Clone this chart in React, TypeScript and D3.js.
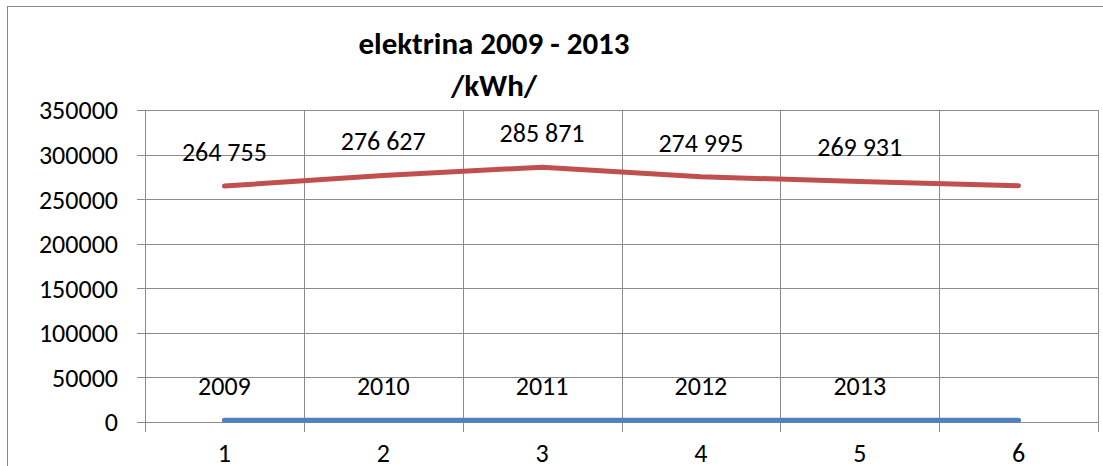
import React from 'react';
import * as d3 from 'd3';

// chart data
const categories = ['1', '2', '3', '4', '5', '6'];
const consumption = [264755, 276627, 285871, 274995, 269931, 265000];
const consumptionLabels = ['264 755', '276 627', '285 871', '274 995', '269 931', ''];
const years = [2009, 2010, 2011, 2012, 2013, 2014];
const yearLabels = ['2009', '2010', '2011', '2012', '2013', ''];
const yTicks = [0, 50000, 100000, 150000, 200000, 250000, 300000, 350000];

const WIDTH = 1103;
const HEIGHT = 466;
const FONT = 'Carlito, Calibri, Lato, sans-serif';

export default function App() {
  const ref = React.useRef<SVGSVGElement>(null);

  React.useEffect(() => {
    if (!ref.current) return;
    document.body.style.margin = '0';
    const svg = d3.select(ref.current);
    svg.selectAll('*').remove();

    const plot = { left: 145, right: 1098, top: 110, bottom: 422 };

    const x = d3.scaleBand<string>()
      .domain(categories)
      .range([plot.left, plot.right]);
    const y = d3.scaleLinear()
      .domain([0, 350000])
      .range([plot.bottom, plot.top]);

    const cx = (i: number) => (x(categories[i]) || 0) + x.bandwidth() / 2;

    // outer chart frame
    svg.append('rect')
      .attr('x', 7.5)
      .attr('y', 6.5)
      .attr('width', WIDTH + 20)
      .attr('height', HEIGHT + 20)
      .attr('fill', '#fff')
      .attr('stroke', '#878787')
      .attr('stroke-width', 1);

    const grid = svg.append('g').attr('stroke', '#8c8c8c').attr('stroke-width', 1);

    // horizontal gridlines with tick stubs on the left
    grid.selectAll('line.h')
      .data(yTicks)
      .join('line')
      .attr('class', 'h')
      .attr('x1', plot.left - 8)
      .attr('x2', plot.right)
      .attr('y1', d => Math.round(y(d)) + 0.5)
      .attr('y2', d => Math.round(y(d)) + 0.5);

    // vertical gridlines at band edges with tick stubs below
    const edges = categories.map(c => x(c) || 0).concat([plot.right]);
    grid.selectAll('line.v')
      .data(edges)
      .join('line')
      .attr('class', 'v')
      .attr('x1', d => Math.round(d) + 0.5)
      .attr('x2', d => Math.round(d) + 0.5)
      .attr('y1', plot.top)
      .attr('y2', plot.bottom + 10);

    // y tick labels
    svg.append('g')
      .selectAll('text')
      .data(yTicks)
      .join('text')
      .attr('x', 118)
      .attr('y', d => y(d))
      .attr('dy', '0.36em')
      .attr('text-anchor', 'end')
      .style('font-family', FONT)
      .style('font-size', '26px')
      .attr('fill', '#000')
      .text(d => String(d));

    // x tick labels
    svg.append('g')
      .selectAll('text')
      .data(categories)
      .join('text')
      .attr('x', (d, i) => cx(i))
      .attr('y', 462)
      .attr('text-anchor', 'middle')
      .style('font-family', FONT)
      .style('font-size', '26px')
      .attr('fill', '#000')
      .text(d => d);

    const line = d3.line<number>()
      .x((d, i) => cx(i))
      .y(d => y(d));

    const series = [
      { values: years, labels: yearLabels, color: '#4F81BD' },
      { values: consumption, labels: consumptionLabels, color: '#C0504D' },
    ];

    series.forEach(s => {
      svg.append('path')
        .datum(s.values)
        .attr('d', line)
        .attr('fill', 'none')
        .attr('stroke', s.color)
        .attr('stroke-width', 5)
        .attr('stroke-linecap', 'round')
        .attr('stroke-linejoin', 'round');

      svg.append('g')
        .selectAll('text')
        .data(s.values)
        .join('text')
        .attr('x', (d, i) => cx(i))
        .attr('y', d => y(d) - 25)
        .attr('text-anchor', 'middle')
        .style('font-family', FONT)
        .style('font-size', '26px')
        .attr('fill', '#000')
        .text((d, i) => s.labels[i]);
    });

    // title
    const title = svg.append('text')
      .attr('text-anchor', 'middle')
      .style('font-family', FONT)
      .style('font-size', '31px')
      .style('font-weight', 'bold')
      .attr('fill', '#000');
    title.append('tspan').attr('x', 494).attr('y', 54).text('elektrina 2009 - 2013');
    title.append('tspan').attr('x', 494).attr('y', 96).text('/kWh/');
  }, []);

  return (
    <svg
      ref={ref}
      width={WIDTH}
      height={HEIGHT}
      style={{ position: 'absolute', left: 0, top: 0, background: '#fff' }}
    />
  );
}
